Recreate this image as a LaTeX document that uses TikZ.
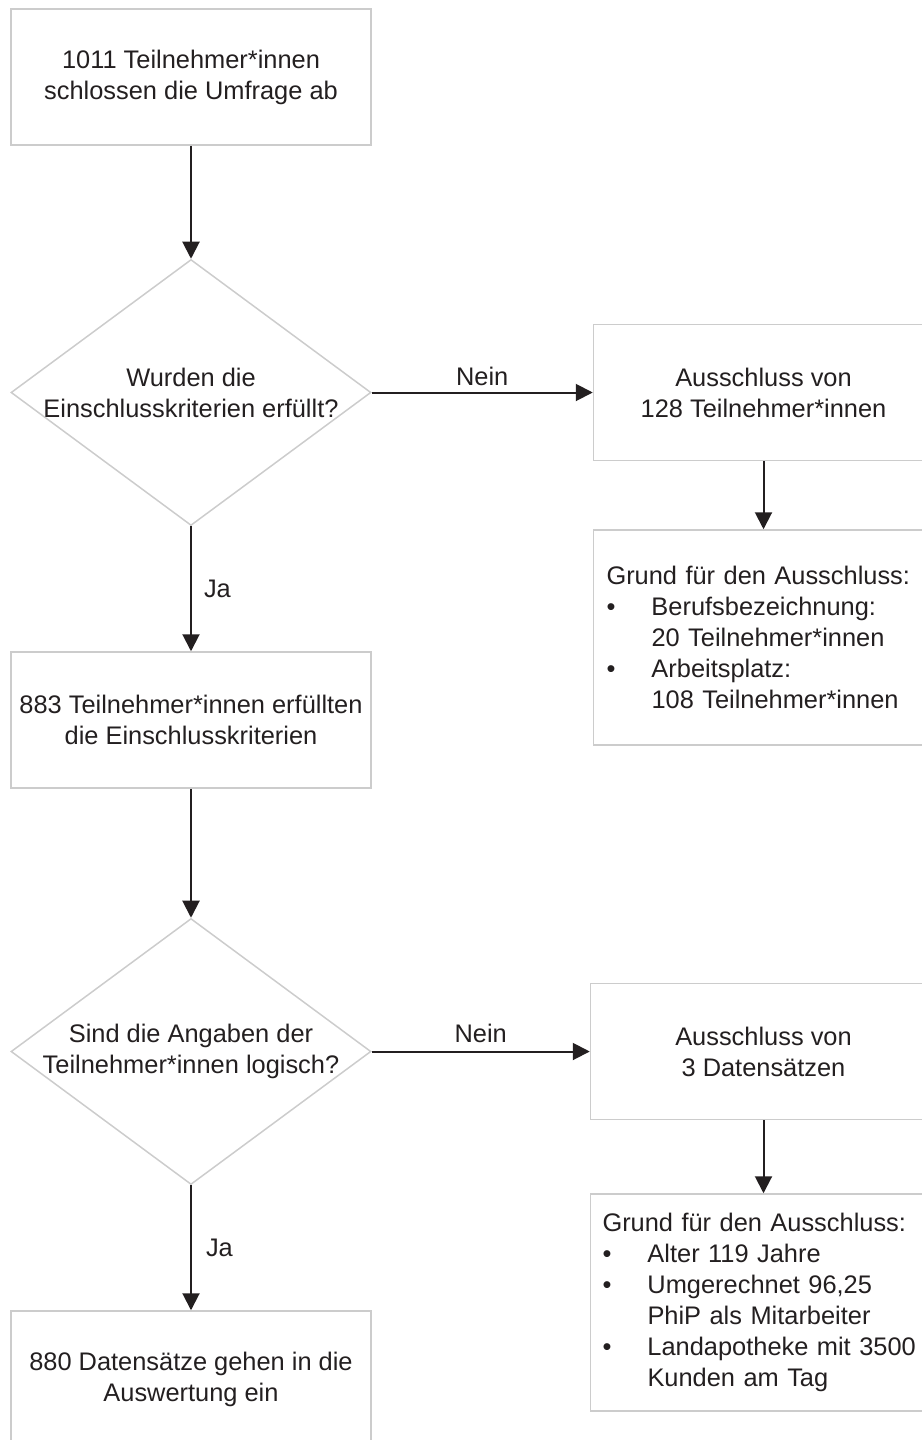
\documentclass[tikz,border=0pt]{standalone}
\usepackage{fontspec}
\setmainfont{Liberation Sans}
\usetikzlibrary{positioning,shapes.geometric,arrows.meta}
\definecolor{frame}{RGB}{204,204,204}
\definecolor{ink}{RGB}{35,31,32}
\newcommand{\itm}{\makebox[22.5pt][l]{\textbullet}}
\newcommand{\ind}{\hspace*{22.5pt}}

\begin{document}
\begin{tikzpicture}[font=\fontsize{12.7pt}{15.5pt}\selectfont,color=ink,
 b/.style={draw=frame,line width=0.75pt,align=center,inner sep=0pt,minimum width=180pt,minimum height=68pt},
 r/.style={draw=frame,line width=0.75pt,align=center,inner sep=0pt,minimum width=170pt,minimum height=68pt},
 w/.style={draw=frame,line width=0.75pt,align=left,inner sep=6.5pt,text width=157pt},
 d/.style={draw=frame,line width=0.75pt,diamond,inner sep=0pt,minimum width=180pt,minimum height=133pt},
 a/.style={draw=ink,line width=1pt,-{Triangle[length=8.5pt,width=8.5pt]}}]
 \useasboundingbox (0,0) rectangle (460.5pt,-720pt);
 \node[b](start) at (95.5pt,-38.5pt){1011 Teilnehmer*innen\\schlossen die Umfrage ab};
 \node[d,below=56.5pt of start,label={[align=center]center:{Wurden die\\Einschlusskriterien erfüllt?}}](q1){};
 \node[r,right=110.5pt of q1](out1){Ausschluss von\\128 Teilnehmer*innen};
 \node[w,below=34pt of out1,minimum height=107.5pt](why1){Grund für den Ausschluss:\\
   \itm Berufsbezeichnung:\\\ind 20 Teilnehmer*innen\\
   \itm Arbeitsplatz:\\\ind 108 Teilnehmer*innen};
 \node[b,below=62.5pt of q1](ok1){883 Teilnehmer*innen erfüllten\\die Einschlusskriterien};
 \node[d,below=64.5pt of ok1,label={[align=center]center:{Sind die Angaben der\\Teilnehmer*innen logisch?}}](q2){};
 \node[r,right=109pt of q2,minimum width=173pt](out2){Ausschluss von\\3 Datensätzen};
 \node[w,below=36.5pt of out2,minimum height=108.5pt,inner sep=6pt,text width=161pt](why2){Grund für den Ausschluss:\\
   \itm Alter 119 Jahre\\
   \itm Umgerechnet 96,25\\\ind PhiP als Mitarbeiter\\
   \itm Landapotheke mit 3500\\\ind Kunden am Tag};
 \node[b,below=62.5pt of q2](final){880 Datensätze gehen in die\\Auswertung ein};
 \draw[a](start)--(q1);
 \draw[a](q1)--node[above,inner sep=3pt]{Nein}(out1);
 \draw[a](out1)--(why1);
 \draw[a](q1)--node[right,inner sep=6pt]{Ja}(ok1);
 \draw[a](ok1)--(q2);
 \draw[a](q2)--node[above,inner sep=4pt]{Nein}(out2);
 \draw[a](out2)--(why2);
 \draw[a](q2)--node[right,inner sep=7pt]{Ja}(final);
\end{tikzpicture}
\end{document}
